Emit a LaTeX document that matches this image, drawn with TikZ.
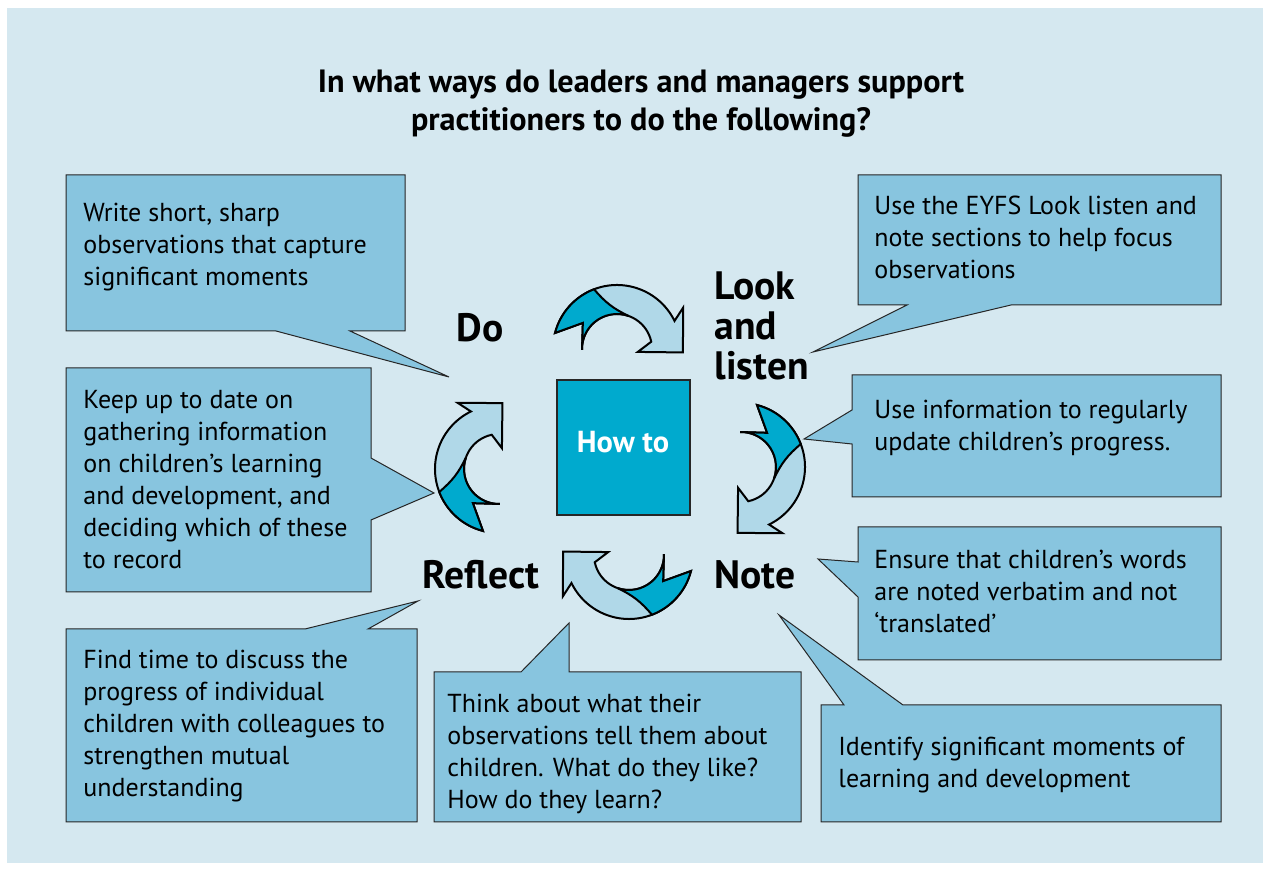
\documentclass[tikz,border=0pt]{standalone}
\usepackage{fontspec}
\setmainfont{PT Sans}
\definecolor{bgblue}{HTML}{D5E8F0}
\definecolor{boxblue}{HTML}{88C5DF}
\definecolor{deepblue}{HTML}{00AACE}
\definecolor{paleblue}{HTML}{B0D8E8}
\tikzset{cyclearrow/.pic={
  \begin{scope}[yscale=-1,line width=1pt]
    \filldraw[fill=paleblue] (165.5:64) arc[start angle=165.5,end angle=26,radius=64] -- (32:78) -- (-3:66) -- (-8:21) -- (12:35)
      arc[start angle=12,end angle=181.5,radius=35] -- (142.6:43) -- cycle;
    \filldraw[fill=deepblue] (165.5:64) arc[start angle=165.5,end angle=111,radius=64] to[bend left=12] (71:35)
      arc[start angle=71,end angle=181.5,radius=35] -- (142.6:43) -- cycle;
  \end{scope}}}

\begin{document}
\begin{tikzpicture}[x=0.5pt,y=-0.5pt,
    callout/.style={draw=black!85,line width=0.5pt,fill=boxblue},
    txt/.style={anchor=north west,inner sep=0pt,align=left,font=\fontsize{13}{16}\selectfont},
    word/.style={inner sep=0pt,font=\bfseries\fontsize{19.8}{20}\selectfont}]
	\useasboundingbox (0,0) rectangle (1269,870);
	\fill[bgblue] (7,8) rectangle (1263,863);
	\path (641,104) node(title)[inner sep=0pt,align=center,font=\bfseries\fontsize{16.1}{19}\selectfont]
		{In what ways do leaders and managers support\\practitioners to do the following?};

	% speech boxes
	\draw[callout] (66,175) -- (405,175) -- (405,331) -- (350,331) -- (449,377) -- (276,331) -- (66,331) -- cycle;
	\draw[callout] (858,175) -- (1221,175) -- (1221,305) -- (1011,305) -- (813,352) -- (907,305) -- (858,305) -- cycle;
	\draw[callout] (852,375) -- (1221,375) -- (1221,497) -- (852,497) -- (852,444) -- (804,439) -- (852,410) -- cycle;
	\draw[callout] (858,527) -- (1221,527) -- (1221,660) -- (858,660) -- (858,597) -- (818,559) -- (858,562) -- cycle;
	\draw[callout] (821,705) -- (844,705) -- (779,615) -- (903,705) -- (1221,705) -- (1221,822) -- (821,822) -- cycle;
	\draw[callout] (434,672) -- (521,672) -- (569,623) -- (569,672) -- (801,672) -- (801,822) -- (434,822) -- cycle;
	\draw[callout] (66,629) -- (305,629) -- (418,601) -- (368,629) -- (417,629) -- (417,822) -- (66,822) -- cycle;
	\draw[callout] (66,368) -- (371,368) -- (371,458) -- (434,493) -- (371,520) -- (371,592) -- (66,592) -- cycle;

	\path (83,203) node(capture)[txt]{Write short, sharp\\observations that capture\\significant moments}
		(874,196) node(eyfs)[txt]{Use the EYFS Look listen and\\note sections to help focus\\observations}
		(874,400) node(update)[txt]{Use information to regularly\\update children’s progress.}
		(874,550) node(verbatim)[txt]{Ensure that children’s words\\are noted verbatim and not\\‘translated’}
		(838,737) node(identify)[txt]{Identify significant moments of\\learning and development}
		(447,694) node(think)[txt]{Think about what their\\observations tell them about\\children. What do they like?\\How do they learn?}
		(83,650) node(discuss)[txt]{Find time to discuss the\\progress of individual\\children with colleagues to\\strengthen mutual\\understanding}
		(83,390) node(gather)[txt]{Keep up to date on\\gathering information\\on children’s learning\\and development, and\\deciding which of these\\to record};

	% the cycle
	\draw[draw=black!85,line width=0.6pt,fill=deepblue] (557,380) rectangle (690,515);
	\path (623,442) node(howto)[inner sep=0pt,text=white,font=\bfseries\fontsize{15.2}{16}\selectfont]{How to};
	\pic at (617,349) {cyclearrow};
	\pic[rotate=-90] at (741,467) {cyclearrow};
	\pic[rotate=180] at (629,555) {cyclearrow};
	\pic[rotate=90] at (499,469) {cyclearrow};
	\path (480,328) node(do)[word]{Do}
		(714,271) node(look)[word,anchor=north west,align=left]{Look\\and\\listen}
		(714,575) node(note)[word,anchor=west]{Note}
		(481,575) node(reflect)[word]{Reflect};
\end{tikzpicture}
\end{document}
